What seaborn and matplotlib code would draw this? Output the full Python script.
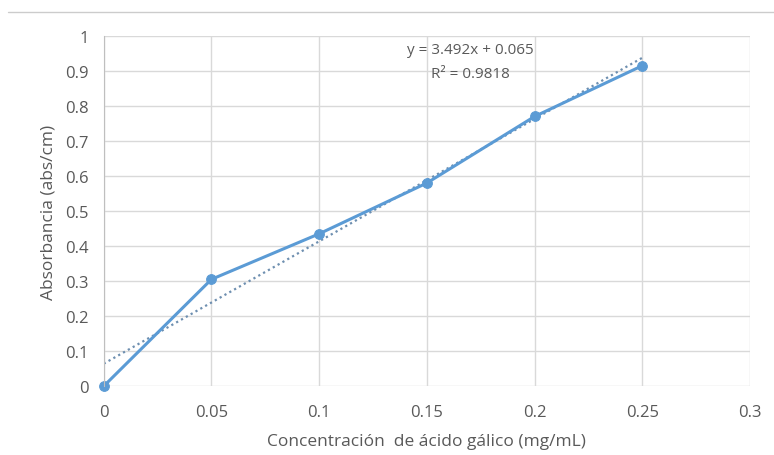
import matplotlib.pyplot as plt
import matplotlib.lines as mlines
import numpy as np
import seaborn as sns

concentracion = [0, 0.05, 0.1, 0.15, 0.2, 0.25]
absorbancia = [0, 0.305, 0.435, 0.58, 0.77, 0.915]
ecuacion = 'y = 3.492x + 0.065'
r2 = 'R² = 0.9818'
x_ticks = [0, 0.05, 0.1, 0.15, 0.2, 0.25, 0.3]
y_ticks = [0, 0.1, 0.2, 0.3, 0.4, 0.5, 0.6, 0.7, 0.8, 0.9, 1]

sns.set_style('white')
plt.rcParams['font.family'] = ['Open Sans', 'DejaVu Sans']

blue = '#5B9BD5'
gray_text = '#595959'

fig = plt.figure(figsize=(7.74, 4.56), dpi=100)
ax = fig.add_axes([0.134, 0.151, 0.835, 0.768])

sns.regplot(x=concentracion, y=absorbancia, ax=ax, scatter=False, ci=None,
            line_kws={'color': '#6E8FB0', 'linestyle': (0, (1, 1.5)), 'linewidth': 1.6})
sns.lineplot(x=concentracion, y=absorbancia, ax=ax, color=blue, linewidth=2.2,
             marker='o', markersize=7, markeredgecolor=blue, clip_on=False)

ax.set_xlim(0, 0.3)
ax.set_ylim(0, 1)
ax.set_xticks(x_ticks)
ax.set_xticklabels([f'{t:g}' for t in x_ticks])
ax.set_yticks(y_ticks)
ax.set_yticklabels([f'{t:g}' for t in y_ticks])
ax.grid(True, color='#D9D9D9', linewidth=1)
ax.set_axisbelow(True)
for side in ['top', 'right', 'bottom']:
    ax.spines[side].set_visible(False)
ax.spines['left'].set_color('#BFBFBF')
ax.tick_params(axis='both', colors=gray_text, labelsize=12, length=0)
ax.tick_params(axis='x', pad=13)
ax.tick_params(axis='y', pad=11)

ax.set_xlabel('Concentración  de ácido gálico (mg/mL)', fontsize=12.5, color=gray_text, labelpad=9)
ax.set_ylabel('Absorbancia (abs/cm)', fontsize=12.5, color=gray_text, labelpad=6)

ax.text(0.17, 0.962, ecuacion, ha='center', va='center', fontsize=11, color=gray_text)
ax.text(0.17, 0.893, r2, ha='center', va='center', fontsize=11, color=gray_text)

fig.add_artist(mlines.Line2D([0.01, 1], [0.972, 0.972], color='#CCCCCC', linewidth=1))

fig.savefig('out.png', dpi=100)
